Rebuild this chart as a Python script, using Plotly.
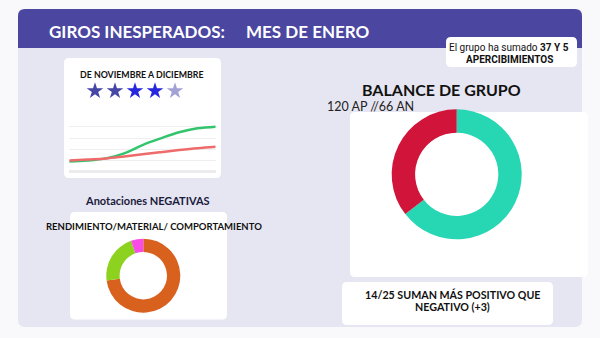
import plotly.graph_objects as go

W, H = 600, 338

# ---------------- data ----------------
line_x = [0, 1, 2, 3, 4, 5, 6, 7, 8]
green_vals = [0.90, 0.99, 1.19, 1.64, 2.38, 2.98, 3.52, 3.87, 4.02]
red_vals = [0.99, 1.08, 1.18, 1.36, 1.55, 1.74, 1.93, 2.10, 2.23]

star_idx = [0, 1, 2, 3, 4]
star_colors = ["#4646A6", "#4646A6", "#2626DE", "#2626DE", "#A2A2D6"]

neg_labels = ["Rendimiento", "Material", "Comportamiento"]
neg_values = [27, 8, 2]
neg_colors = ["#D8611E", "#8CD21E", "#F84BE8"]

bal_labels = ["AP", "AN"]
bal_values = [120, 66]
bal_colors = ["#27D6B2", "#D1153A"]

# ---------------- helpers ----------------
def px(x):
    return x / W

def py(y):
    return 1 - y / H

def rrect(x0, y0, x1, y1, r, tl=True, tr=True, br=True, bl=True):
    def P(x, y):
        return f"{px(x):.5f},{py(y):.5f}"
    rtl = r if tl else 0
    rtr = r if tr else 0
    rbr = r if br else 0
    rbl = r if bl else 0
    d = f"M {P(x0 + rtl, y0)} L {P(x1 - rtr, y0)} Q {P(x1, y0)} {P(x1, y0 + rtr)} "
    d += f"L {P(x1, y1 - rbr)} Q {P(x1, y1)} {P(x1 - rbr, y1)} "
    d += f"L {P(x0 + rbl, y1)} Q {P(x0, y1)} {P(x0, y1 - rbl)} "
    d += f"L {P(x0, y0 + rtl)} Q {P(x0, y0)} {P(x0 + rtl, y0)} Z"
    return d

shapes = []
def add_card(x0, y0, x1, y1, r, color, **kw):
    shapes.append(dict(type="path", xref="paper", yref="paper", path=rrect(x0, y0, x1, y1, r, **kw),
                       fillcolor=color, line=dict(width=0), layer="below"))

add_card(18, 9, 582, 327, 7, "#E6E6F2")
add_card(18, 9, 582, 48, 7, "#4B47A0", br=False, bl=False)
add_card(446, 37, 577, 67, 5, "#FFFFFF")
add_card(64, 58, 221, 178, 5, "#FFFFFF")
add_card(70, 212, 227, 319.5, 5, "#FFFFFF")
add_card(350, 112, 588, 277, 5, "#FFFFFF")
add_card(342, 282, 553, 325, 5, "#FFFFFF")

fig = go.Figure()

# line chart
fig.add_trace(go.Scatter(x=line_x, y=green_vals, mode="lines", line=dict(color="#33C46E", width=2.5, shape="spline", smoothing=1.0),
                         xaxis="x", yaxis="y", hoverinfo="skip", showlegend=False))
fig.add_trace(go.Scatter(x=line_x, y=red_vals, mode="lines", line=dict(color="#EF6A6A", width=2.5, shape="spline", smoothing=1.0),
                         xaxis="x", yaxis="y", hoverinfo="skip", showlegend=False))

# stars
fig.add_trace(go.Scatter(x=star_idx, y=[0.5] * len(star_idx), mode="markers",
                         marker=dict(symbol="star", size=12.5, color=star_colors, line=dict(width=0)),
                         xaxis="x2", yaxis="y2", hoverinfo="skip", showlegend=False))

# donuts
def dom(cx, cy, r):
    return dict(x=[px(cx - r), px(cx + r)], y=[py(cy + r), py(cy - r)])

fig.add_trace(go.Pie(labels=neg_labels, values=neg_values, hole=0.64, sort=False, direction="clockwise", rotation=0,
                     marker=dict(colors=neg_colors, line=dict(width=0)), textinfo="none", hoverinfo="skip",
                     domain=dom(143.3, 275.7, 37), showlegend=False))
fig.add_trace(go.Pie(labels=bal_labels, values=bal_values, hole=0.64, sort=False, direction="clockwise", rotation=0,
                     marker=dict(colors=bal_colors, line=dict(width=0)), textinfo="none", hoverinfo="skip",
                     domain=dom(456.7, 174.3, 65), showlegend=False))

ann = []
def txt(x, y, s, size, color="#111111", family="Lato", xanchor="center"):
    ann.append(dict(x=px(x), y=py(y), xref="paper", yref="paper", text=s, showarrow=False,
                    xanchor=xanchor, yanchor="middle", font=dict(size=size, color=color, family=family)))

txt(136.5, 31.5, "<b>GIROS INESPERADOS:</b>", 17, "#FFFFFF")
txt(308, 31.5, "<b>MES DE ENERO</b>", 17, "#FFFFFF")
txt(509, 47.7, "El grupo ha sumado <b>37 Y 5</b>", 10, "#111111", "Roboto")
txt(509, 59.3, "<b>APERCIBIMIENTOS</b>", 10, "#111111", "Roboto")
txt(141.5, 74, "<b>DE NOVIEMBRE A DICIEMBRE</b>", 8.8, "#111111")
txt(147.5, 200.7, "<b>Anotaciones NEGATIVAS</b>", 11, "#1B1B3C")
txt(154, 226.7, "<b>RENDIMIENTO/MATERIAL/ COMPORTAMIENTO</b>", 9.5, "#111111")
txt(441.5, 89.3, "<b>BALANCE DE GRUPO</b>", 16, "#111111")
txt(370.5, 106.7, "120 AP //66 AN", 12.5, "#222222")
txt(452.7, 294, "<b>14/25 SUMAN MÁS POSITIVO QUE</b>", 10.7, "#111111")
txt(452.7, 306.7, "<b>NEGATIVO (+3)</b>", 10.7, "#111111")

fig.update_layout(
    width=W, height=H, margin=dict(l=0, r=0, t=0, b=0),
    paper_bgcolor="#F9F9FB", plot_bgcolor="rgba(0,0,0,0)",
    shapes=shapes, annotations=ann, showlegend=False,
    xaxis=dict(domain=[px(69.3), px(215.7)], range=[0, 8], showgrid=False, zeroline=False,
               showticklabels=False, showline=False, fixedrange=True),
    yaxis=dict(domain=[py(171.7), py(115.7)], range=[0, 5], dtick=1, showgrid=True, gridcolor="#EFEFF2",
               gridwidth=1, zeroline=True, zerolinecolor="#ECECEF", zerolinewidth=3,
               showticklabels=False, fixedrange=True),
    xaxis2=dict(domain=[px(85), px(185)], range=[-0.5, 4.5], visible=False, fixedrange=True),
    yaxis2=dict(domain=[py(101), py(81)], range=[0, 1], visible=False, fixedrange=True),
)

fig.write_html("out.html", config=dict(displayModeBar=False))
